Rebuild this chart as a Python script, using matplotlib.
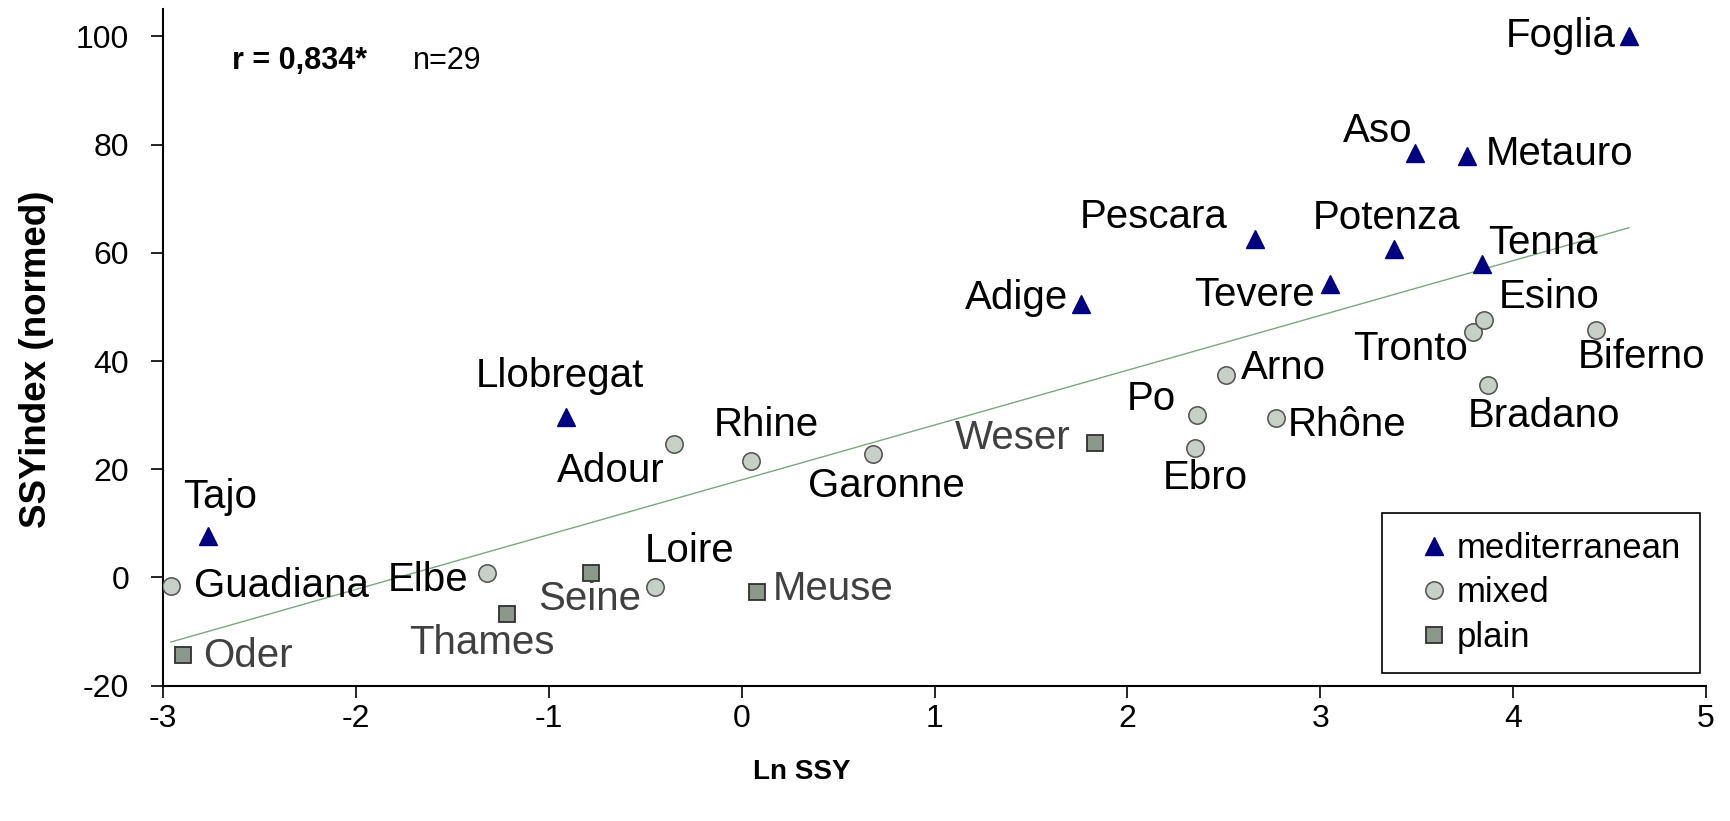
import numpy as np
import matplotlib
matplotlib.use("Agg")
import matplotlib.pyplot as plt
from matplotlib.lines import Line2D

plt.rcParams['font.family'] = ['Liberation Sans', 'DejaVu Sans']
plt.rcParams['axes.unicode_minus'] = False

# river data: Ln SSY vs normed SSY index
med_names = ["Foglia", "Aso", "Metauro", "Pescara", "Potenza", "Tenna",
             "Tevere", "Adige", "Llobregat", "Tajo"]
med_x = [4.60, 3.49, 3.76, 2.66, 3.38, 3.84, 3.05, 1.76, -0.91, -2.77]
med_y = [100.0, 78.4, 77.9, 62.5, 60.8, 58.0, 54.3, 50.6, 29.7, 7.6]

mix_names = ["Guadiana", "Elbe", "Loire", "Adour", "Rhine", "Garonne", "Arno",
             "Po", "Ebro", "Rhône", "Tronto", "Esino", "Biferno", "Bradano"]
mix_x = [-2.96, -1.32, -0.45, -0.35, 0.05, 0.68, 2.51, 2.36, 2.35, 2.77,
         3.79, 3.85, 4.43, 3.87]
mix_y = [-1.6, 0.9, -1.8, 24.7, 21.6, 22.9, 37.5, 30.0, 24.0, 29.4,
         45.4, 47.5, 45.7, 35.5]

plain_names = ["Oder", "Thames", "Seine", "Meuse", "Weser"]
plain_x = [-2.90, -1.22, -0.78, 0.08, 1.83]
plain_y = [-14.4, -6.7, 0.8, -2.7, 24.9]

x_ticks = [-3, -2, -1, 0, 1, 2, 3, 4, 5]
y_ticks = [-20, 0, 20, 40, 60, 80, 100]

# label placement: (ha, dx, dy) in pixels from the marker to the text baseline
label_pos = {
    "Foglia": ("right", -13, -11), "Aso": ("right", -2, 11),
    "Metauro": ("left", 19, -9), "Pescara": ("right", -27, 11),
    "Potenza": ("center", -7, 20), "Tenna": ("left", 6, 10),
    "Tevere": ("right", -15, -22), "Adige": ("right", -13, -5),
    "Llobregat": ("center", -6, 30), "Tajo": ("center", 12, 28),
    "Guadiana": ("left", 23, -11), "Elbe": ("right", -19, -18),
    "Loire": ("left", -10, 25), "Adour": ("right", -10, -38),
    "Rhine": ("left", -38, 25), "Garonne": ("left", -65, -43),
    "Arno": ("left", 15, -4), "Po": ("right", -21, 5),
    "Ebro": ("center", 10, -41), "Rhône": ("left", 12, -18),
    "Tronto": ("right", -5, -28), "Esino": ("left", 15, 12),
    "Biferno": ("left", -18, -38), "Bradano": ("left", -20, -42),
    "Oder": ("left", 21, -12), "Thames": ("center", -25, -40),
    "Seine": ("center", -2, -37), "Meuse": ("left", 16, -8),
    "Weser": ("right", -24, -6),
}

W, H = 1730, 821
fig = plt.figure(figsize=(W / 100, H / 100), dpi=100)
ax = fig.add_axes([163.3 / W, 1 - 685.7 / H, (1706 - 163.3) / W, (685.7 - 9.4) / H])

# regression line over all rivers
all_x = np.array(med_x + mix_x + plain_x)
all_y = np.array(med_y + mix_y + plain_y)
slope, intercept = np.polyfit(all_x, all_y, 1)
lx = np.array([all_x.min(), all_x.max()])
ax.plot(lx, slope * lx + intercept, color="#7aa87a", lw=1.0, zorder=1)

tri_color = "#000080"
ax.plot(med_x, med_y, ls="none", marker="^", ms=13, color=tri_color,
        mec=tri_color, zorder=3)
ax.plot(mix_x, mix_y, ls="none", marker="o", ms=12.5, mfc="#c6d0c6",
        mec="#505050", mew=1.1, zorder=3)
ax.plot(plain_x, plain_y, ls="none", marker="s", ms=12, mfc="#8c988c",
        mec="#303030", mew=1.3, zorder=3)

def put_labels(names, xs, ys, color):
    for n, x, y in zip(names, xs, ys):
        ha, dx, dy = label_pos[n]
        ax.annotate(n, (x, y), xytext=(dx, dy), textcoords="offset pixels",
                    ha=ha, va="baseline", fontsize=29, color=color)

put_labels(med_names, med_x, med_y, "black")
put_labels(mix_names, mix_x, mix_y, "black")
put_labels(plain_names, plain_x, plain_y, "#404040")

ax.set_xlim(-3, 5)
ax.set_ylim(-20, 105)
ax.set_xticks(x_ticks)
ax.set_yticks(y_ticks)
for s in ["top", "right"]:
    ax.spines[s].set_visible(False)
for s in ["left", "bottom"]:
    ax.spines[s].set_linewidth(1.5)
ax.tick_params(direction="out", length=8.5, width=1.2, labelsize=23)
ax.tick_params(axis="x", pad=5)
ax.tick_params(axis="y", pad=16)

ax.set_xlabel("Ln SSY", fontsize=20, fontweight="bold", va="center")
ax.xaxis.set_label_coords(0.414, -0.128)
ax.set_ylabel("SSYindex (normed)", fontsize=26.5, fontweight="bold",
              va="center", ha="center")
ax.yaxis.set_label_coords(-0.082, 0.482)

fig.text(231.5 / W, 1 - 69 / H, "r = 0,834*", fontsize=22, fontweight="bold",
         va="baseline")
fig.text(412.5 / W, 1 - 69 / H, "n=29", fontsize=22, va="baseline")

handles = [
    Line2D([], [], ls="none", marker="^", ms=13, color=tri_color),
    Line2D([], [], ls="none", marker="o", ms=12.5, mfc="#c6d0c6", mec="#505050", mew=1.1),
    Line2D([], [], ls="none", marker="s", ms=12, mfc="#8c988c", mec="#303030", mew=1.3),
]
leg = fig.legend(handles, ["mediterranean", "mixed", "plain"],
                 loc="upper left", bbox_to_anchor=(1381.7 / W, 1 - 512.7 / H),
                 borderaxespad=0, fontsize=25, frameon=True, fancybox=False,
                 edgecolor="black", framealpha=1, borderpad=0.55,
                 handlelength=1.9, handletextpad=-0.3, labelspacing=0.33)
leg.get_frame().set_linewidth(1.2)

fig.savefig("out.png", dpi=100)
